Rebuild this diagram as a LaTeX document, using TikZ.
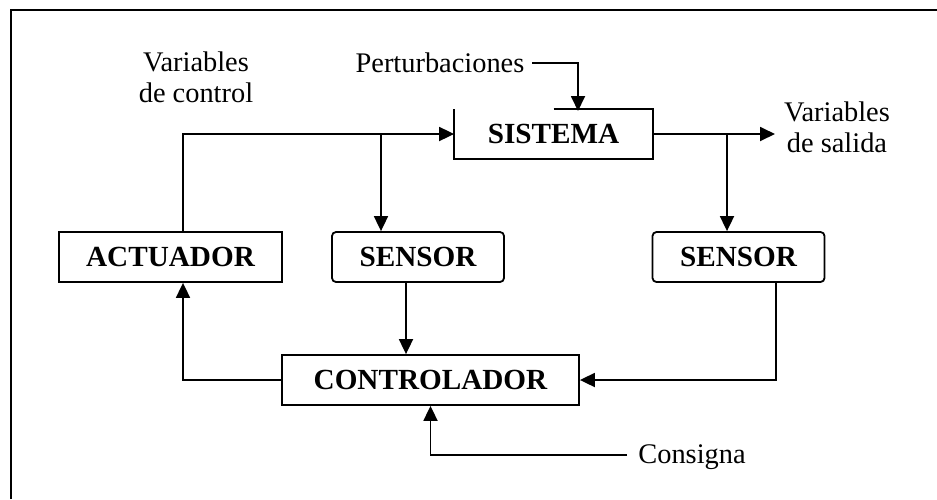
\documentclass[tikz,border=0pt]{standalone}
\usepackage{fontspec}
\setmainfont{Liberation Serif}
\usetikzlibrary{positioning,arrows.meta}

\begin{document}
\begin{tikzpicture}[
    x=0.5pt, y=-0.5pt,
    font=\fontsize{14.2}{15.5}\selectfont,
    line width=0.9pt,
    >={Triangle[length=7.5pt,width=7pt]},
    squarenode/.style={rectangle, draw=black, fill=white, font=\fontsize{14.6}{15.5}\selectfont\bfseries, minimum height=25pt, inner sep=0pt},
    sensornode/.style={squarenode, rounded corners=2pt, minimum width=86pt},
    textnode/.style={align=center, inner sep=1.5pt}
    ]
    \useasboundingbox (0,0) rectangle (937,499);

    %Frame
    \draw[line width=1pt] (11,499) -- (11,10) -- (937,10);

    %Blocks
    \node[squarenode, draw=none, minimum width=98.5pt, minimum height=24pt] (sistema) at (553.5,134) {SISTEMA};
    \node[squarenode, minimum width=111.5pt]  (actuador)    at (170.5,257) {ACTUADOR};
    \node[sensornode]                         (sensor_in)   at (418,257)   {SENSOR};
    \node[sensornode]                         (sensor_out)  at (738.5,257) {SENSOR};
    \node[squarenode, minimum width=148.5pt]  (controlador) at (430.5,380) {CONTROLADOR};

    %System box, open on the upper left
    \draw (sistema.north) -- (sistema.north east) |- (sistema.south west) -- (sistema.north west);

    %Labels
    \node[textnode] (var_control)   at (196,77)  {Variables\\de control};
    \node[textnode] (perturb)       at (440,63)  {Perturbaciones};
    \node[textnode] (var_salida)    at (837,127) {Variables\\de salida};
    \node[textnode] (consigna)      at (692,457) {Consigna};

    %Branch points
    \coordinate (act_up)    at (183,134);
    \coordinate (tap_in)    at (381,134);
    \coordinate (tap_out)   at (727,134);
    \coordinate (out_end)   at (775,134);
    \coordinate (pert_in)   at (578,111);
    \coordinate (sens_in)   at (406,282);
    \coordinate (sens_out)  at (776,282);
    \coordinate (set_start) at (627,455);

    %Lines
    \draw[->]   (act_up |- actuador.north) |- (sistema.west);
    \draw[->]   (tap_in) -- (tap_in |- sensor_in.north);
    \draw[->]   (sistema.east) -- (out_end);
    \draw[->]   (tap_out) -- (tap_out |- sensor_out.north);
    \draw[->]   ([xshift=2pt]perturb.east) -| (pert_in);

    \draw[->]   (sens_in) -- (sens_in |- controlador.north);
    \draw[->]   (sens_out) |- (controlador.east);
    \draw[->]   (controlador.west) -| (act_up |- actuador.south);
    \draw[->]   (set_start) -| (controlador.south);

\end{tikzpicture}
\end{document}
